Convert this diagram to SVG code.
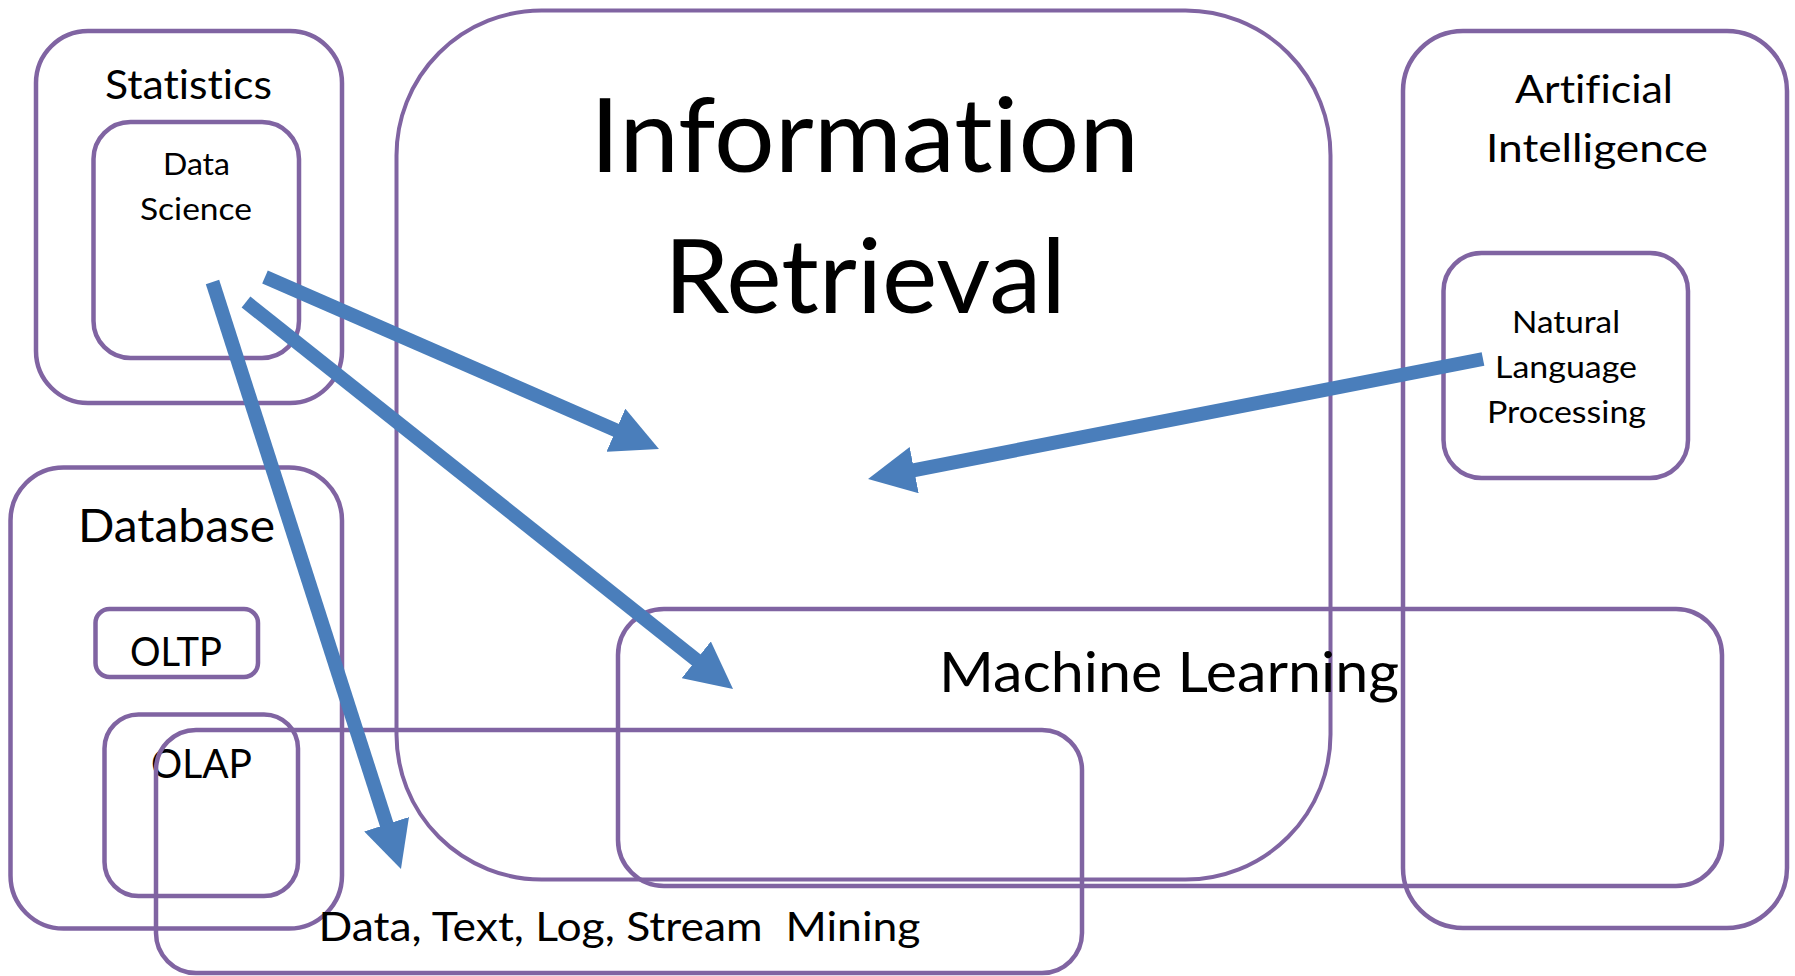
<svg xmlns="http://www.w3.org/2000/svg" width="1795" height="976" viewBox="0 0 1795 976">
  <style>
    .box { fill: none; stroke: #8064A2; stroke-width: 4.5; }
    .thin { stroke-width: 4; }
    .lbl { font-family: Lato, "Open Sans", "Liberation Sans", sans-serif; fill: #000; text-anchor: middle; font-variant-ligatures: none; font-feature-settings: "liga" 0, "clig" 0; }
    .arrow { stroke: #4A7EBB; stroke-width: 14; fill: none; stroke-linecap: butt; marker-end: url(#head); }
  </style>
  <defs>
    <marker id="head" markerUnits="userSpaceOnUse" viewBox="0 0 47 47" markerWidth="47" markerHeight="47" refX="1" refY="23.5" orient="auto">
      <path d="M0,0 L47,23.5 L0,47 Z" fill="#4A7EBB"/>
    </marker>
  </defs>
  <rect width="1795" height="976" fill="#fff"/>

  <g id="statistics">
    <rect class="box" x="36" y="31" width="306" height="372" rx="52"/>
    <text class="lbl" x="188.5" y="99" font-size="41" textLength="167" lengthAdjust="spacingAndGlyphs">Statistics</text>
  </g>
  <g id="data-science">
    <rect class="box" x="93.5" y="122" width="205.5" height="236" rx="37"/>
    <text class="lbl" x="196.5" y="175" font-size="31" textLength="67" lengthAdjust="spacingAndGlyphs">Data</text>
    <text class="lbl" x="196" y="220" font-size="31" textLength="112" lengthAdjust="spacingAndGlyphs">Science</text>
  </g>
  <g id="database">
    <rect class="box" x="10.5" y="467.5" width="331.5" height="461" rx="53"/>
    <text class="lbl" x="176.5" y="542" font-size="46" textLength="197" lengthAdjust="spacingAndGlyphs">Database</text>
  </g>
  <g id="oltp">
    <rect class="box" x="95.5" y="609" width="162.5" height="68" rx="14"/>
    <text class="lbl" x="176" y="666" font-size="41" textLength="92" lengthAdjust="spacingAndGlyphs">OLTP</text>
  </g>
  <g id="olap">
    <rect class="box" x="104.5" y="714.5" width="193.5" height="181.5" rx="34"/>
    <text class="lbl" x="201.5" y="778" font-size="41" textLength="101" lengthAdjust="spacingAndGlyphs">OLAP</text>
  </g>
  <g id="data-mining">
    <rect class="box" x="156" y="730" width="926" height="243" rx="40"/>
    <text class="lbl" x="619.5" y="941" font-size="40.5" textLength="602" lengthAdjust="spacingAndGlyphs" xml:space="preserve">Data, Text, Log, Stream  Mining</text>
  </g>
  <g id="information-retrieval">
    <rect class="box thin" x="396.5" y="10.5" width="934" height="869" rx="145"/>
    <text class="lbl" x="864.5" y="172" font-size="102" textLength="549" lengthAdjust="spacingAndGlyphs">Information</text>
    <text class="lbl" x="865" y="313" font-size="102" textLength="402" lengthAdjust="spacingAndGlyphs">Retrieval</text>
  </g>
  <g id="machine-learning">
    <rect class="box" x="618" y="609" width="1104" height="277" rx="46"/>
    <text class="lbl" x="1169" y="692" font-size="56" textLength="460" lengthAdjust="spacingAndGlyphs">Machine Learning</text>
  </g>
  <g id="artificial-intelligence">
    <rect class="box" x="1403" y="31" width="384" height="897" rx="60"/>
    <text class="lbl" x="1594" y="103" font-size="39" textLength="158" lengthAdjust="spacingAndGlyphs">Artificial</text>
    <text class="lbl" x="1597" y="162" font-size="39" textLength="222" lengthAdjust="spacingAndGlyphs">Intelligence</text>
  </g>
  <g id="nlp">
    <rect class="box" x="1443.5" y="253" width="244.5" height="225" rx="38"/>
    <text class="lbl" x="1566" y="333" font-size="31" textLength="108" lengthAdjust="spacingAndGlyphs">Natural</text>
    <text class="lbl" x="1566" y="378" font-size="31" textLength="142" lengthAdjust="spacingAndGlyphs">Language</text>
    <text class="lbl" x="1566.5" y="423" font-size="31" textLength="159" lengthAdjust="spacingAndGlyphs">Processing</text>
  </g>

  <g id="connectors">
    <line class="arrow" x1="212.5" y1="282" x2="386.9" y2="825.2"/>
    <line class="arrow" x1="265" y1="277" x2="616.8" y2="430.6"/>
    <line class="arrow" x1="246" y1="302" x2="697.0" y2="660.4"/>
    <line class="arrow" x1="1483" y1="359" x2="913.2" y2="470.3"/>
  </g>
</svg>
